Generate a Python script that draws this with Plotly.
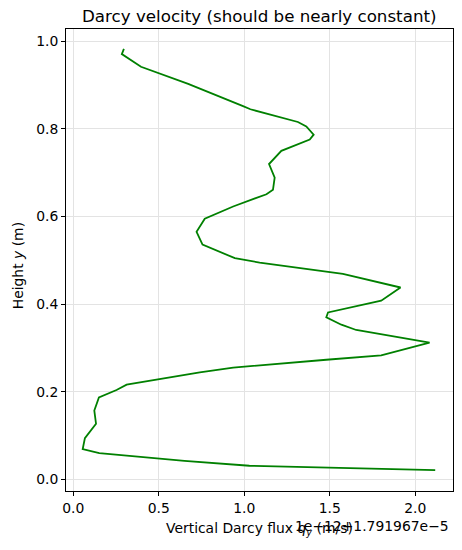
import plotly.graph_objects as go

# Height (m), top to bottom
height_y = [0.983, 0.971, 0.942, 0.928, 0.903, 0.852, 0.845, 0.816, 0.806, 0.787,
            0.776, 0.750, 0.720, 0.689, 0.661, 0.651, 0.632, 0.623, 0.595, 0.565,
            0.536, 0.505, 0.495, 0.469, 0.438, 0.408, 0.381, 0.370, 0.353, 0.341,
            0.312, 0.283, 0.273, 0.255, 0.244, 0.223, 0.216, 0.204, 0.187, 0.157,
            0.127, 0.094, 0.069, 0.060, 0.042, 0.031, 0.021]

# Vertical Darcy flux offset, in units of 1e-12 m/s above 1.791967e-5
flux_offset = [0.296, 0.284, 0.396, 0.497, 0.672, 0.993, 1.036, 1.314, 1.363, 1.406,
               1.383, 1.217, 1.145, 1.178, 1.168, 1.130, 0.989, 0.935, 0.769, 0.721,
               0.756, 0.945, 1.090, 1.577, 1.914, 1.801, 1.490, 1.480, 1.568, 1.655,
               2.084, 1.801, 1.480, 0.935, 0.740, 0.419, 0.312, 0.253, 0.150, 0.123,
               0.133, 0.068, 0.055, 0.152, 0.650, 1.030, 2.117]

x_ticks = [0.0, 0.5, 1.0, 1.5, 2.0]
y_ticks = [0.0, 0.2, 0.4, 0.6, 0.8, 1.0]

FONT = "DejaVu Sans"
FS = 13.9

fig = go.Figure()
fig.add_trace(go.Scatter(x=flux_offset, y=height_y, mode="lines",
                         line=dict(color="#008000", width=1.8), showlegend=False))

axis_common = dict(showline=True, mirror=True, linecolor="black", linewidth=1,
                   ticks="outside", ticklen=4, tickcolor="black", tickwidth=1,
                   showgrid=True, gridcolor="#e3e3e3", gridwidth=1, zeroline=False,
                   tickfont=dict(family=FONT, size=FS, color="black"))

fig.update_xaxes(range=[-0.0426, 2.221], tickvals=x_ticks,
                 ticktext=[f"{v:.1f}" for v in x_ticks], **axis_common)
fig.update_yaxes(range=[-0.0267, 1.0283], tickvals=y_ticks,
                 ticktext=[f"{v:.1f}" for v in y_ticks], **axis_common)

fig.update_layout(
    width=462, height=550,
    margin=dict(l=66, r=8.5, t=29, b=59),
    paper_bgcolor="white", plot_bgcolor="white",
    font=dict(family=FONT, color="black"),
    annotations=[
        dict(text="Darcy velocity (should be nearly constant)", x=0.5, y=1,
             xref="paper", yref="paper", xanchor="center", yanchor="middle",
             yshift=13.5, showarrow=False, font=dict(family=FONT, size=16.7, color="black")),
        dict(text="Vertical Darcy flux <i>q<sub>y</sub></i> (m/s)", x=0.5, y=0,
             xref="paper", yref="paper", xanchor="center", yanchor="middle",
             yshift=-38, showarrow=False, font=dict(family=FONT, size=FS, color="black")),
        dict(text="1e\u221212+1.791967e\u22125", x=1, y=0,
             xref="paper", yref="paper", xanchor="right", yanchor="middle",
             yshift=-35, xshift=-2, showarrow=False,
             font=dict(family=FONT, size=FS, color="black")),
        dict(text="Height <i>y</i> (m)", x=0, y=0.5, textangle=-90,
             xref="paper", yref="paper", xanchor="center", yanchor="middle",
             xshift=-47.7, yshift=-6, showarrow=False,
             font=dict(family=FONT, size=FS, color="black")),
    ],
)

fig.write_html("out.html")
